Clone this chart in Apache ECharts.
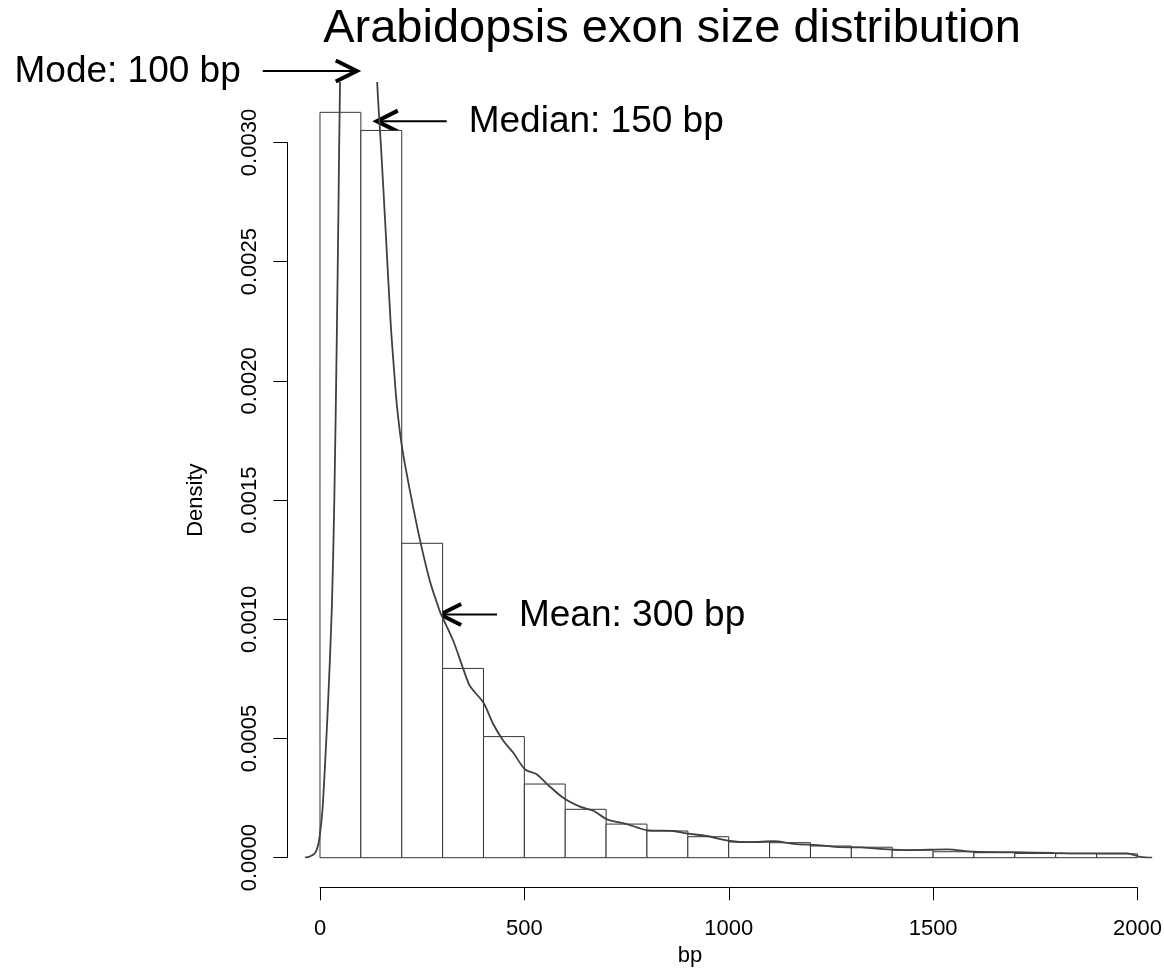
<!DOCTYPE html>
<html>
<head>
<meta charset="utf-8">
<script src="https://cdn.jsdelivr.net/npm/echarts@6/dist/echarts.min.js"></script>
<style>
	html, body { margin: 0; padding: 0; background: #fff; }
	#chart { width: 1164px; height: 972px; }
</style>
</head>
<body>
<div id="chart"></div>
<script>
	// histogram bins (100 bp wide), density per bin
	var binStart = [0, 100, 200, 300, 400, 500, 600, 700, 800, 900, 1000, 1100, 1200, 1300, 1400, 1500, 1600, 1700, 1800, 1900];
	var binDensity = [0.003127, 0.003051, 0.001319, 0.000794, 0.000508, 0.000309, 0.000203, 0.000141, 0.000112, 0.000088,
		0.000066, 0.000063, 0.000049, 0.000044, 0.000032, 0.000025, 0.000021, 0.000018, 0.000017, 0.000016];
	var binWidth = 100;

	// kernel density curve
	var curveBp = [-37, -25, -12, -5, 0, 6, 12, 20, 29, 35, 41, 45, 49, 60, 75, 90, 105, 120, 140, 150, 160, 173, 181, 188,
		200, 220, 245, 269, 294, 302, 326, 351, 367, 400, 424, 449, 473, 502, 530, 555, 596, 636, 669, 702, 751, 800,
		865, 897, 946, 1004, 1053, 1110, 1159, 1224, 1273, 1322, 1371, 1444, 1534, 1599, 1697, 1795, 1893, 1975, 2003, 2020, 2036];
	var curveDensity = [0, 0.000005, 0.00002, 0.00005, 0.0001, 0.0002, 0.00038, 0.00066, 0.00105, 0.0015, 0.00217, 0.0027, 0.00325,
		0.0042, 0.0048, 0.0050, 0.0047, 0.0041, 0.00325, 0.00296, 0.00265, 0.00224, 0.00205, 0.00190,
		0.00173, 0.00154, 0.00133, 0.00116, 0.00103, 0.00100, 0.00091, 0.00079, 0.00072, 0.00065, 0.00056, 0.00049, 0.00044,
		0.00037, 0.00035, 0.00031, 0.00025, 0.000214, 0.000197, 0.000161, 0.000141, 0.000116,
		0.000112, 0.000102, 0.000091, 0.00007, 0.000065, 0.000069, 0.000058, 0.000052, 0.000044, 0.000043, 0.000037,
		0.000032, 0.000035, 0.000025, 0.000023, 0.00002, 0.000018, 0.000018, 0.000005, 0.000001, 0];

	// annotation arrows (data coordinates)
	var noteText = ['Mode: 100 bp', 'Median: 150 bp', 'Mean: 300 bp'];
	var noteTipBp = [90, 139, 294];
	var noteTipDensity = [0.0033, 0.00309, 0.00102];
	var noteTailBp = [-140, 310, 433];

	var FONT = '"Liberation Sans", Arial, sans-serif';
	var chart = echarts.init(document.getElementById('chart'));

	var barData = [];
	for (var i = 0; i < binStart.length; i++) {
		barData.push([binStart[i], binStart[i] + binWidth, binDensity[i]]);
	}
	var curveData = [];
	for (var j = 0; j < curveBp.length; j++) {
		curveData.push([curveBp[j], curveDensity[j]]);
	}

	var axisLine = { show: true, onZero: false, lineStyle: { color: '#000', width: 1 } };

	var option = {
		animation: false,
		backgroundColor: '#fff',
		grid: [
			{ left: 287.3, right: 0, top: 83, bottom: 114.3, outerBoundsMode: 'none' },
			{ left: 320, width: 817.5, top: 700, bottom: 84.7, outerBoundsMode: 'none' },
			{ left: 287.3, width: 100, top: 142.5, bottom: 114.3, outerBoundsMode: 'none' }
		],
		xAxis: [
			{ gridIndex: 0, type: 'value', min: -80, max: 2065, show: false },
			{
				gridIndex: 1, type: 'value', min: 0, max: 2000, interval: 500,
				axisLine: axisLine, splitLine: { show: false },
				axisTick: { show: true, length: 13, lineStyle: { color: '#000' } },
				axisLabel: {
					fontSize: 22, fontFamily: FONT, color: '#000', margin: 31,
					formatter: function(v) { return String(v); }
				}
			},
			{ gridIndex: 2, type: 'value', show: false }
		],
		yAxis: [
			{ gridIndex: 0, type: 'value', min: 0, max: 0.00325, show: false },
			{ gridIndex: 1, type: 'value', show: false },
			{
				gridIndex: 2, type: 'value', min: 0, max: 0.003, interval: 0.0005,
				axisLine: axisLine, splitLine: { show: false },
				axisTick: { show: true, length: 14, lineStyle: { color: '#000' } },
				axisLabel: {
					fontSize: 22, fontFamily: FONT, color: '#000', margin: 26, rotate: 90,
					formatter: function(v) { return v.toFixed(4); }
				},
				name: 'Density', nameLocation: 'middle', nameGap: 80,
				nameTextStyle: { fontSize: 22, fontFamily: FONT, color: '#000' }
			}
		],
		series: [
			{
				type: 'custom',
				xAxisIndex: 0, yAxisIndex: 0,
				data: barData,
				renderItem: function(params, api) {
					var p0 = api.coord([api.value(0), api.value(2)]);
					var p1 = api.coord([api.value(1), 0]);
					return {
						type: 'rect',
						shape: { x: p0[0], y: p0[1], width: p1[0] - p0[0], height: p1[1] - p0[1] },
						style: { fill: '#fff', stroke: '#333', lineWidth: 1 }
					};
				},
				z: 2
			},
			{
				type: 'line',
				xAxisIndex: 0, yAxisIndex: 0,
				data: curveData,
				showSymbol: false,
				smooth: 0.3,
				clip: true,
				lineStyle: { color: '#404040', width: 1.8 },
				z: 3
			}
		]
	};
	chart.setOption(option);

	// title, x label and arrows placed through the grid's scales
	var graphics = [
		{
			type: 'text', x: 672, y: 29,
			style: { text: 'Arabidopsis exon size distribution', font: '47px ' + FONT, fill: '#000',
				align: 'center', verticalAlign: 'middle', textAlign: 'center', textVerticalAlign: 'middle' }
		},
		{
			type: 'text', x: 690, y: 956,
			style: { text: 'bp', font: '22px ' + FONT, fill: '#000',
				align: 'center', verticalAlign: 'middle', textAlign: 'center', textVerticalAlign: 'middle' }
		}
	];
	for (var k = 0; k < noteText.length; k++) {
		var tip = chart.convertToPixel({ xAxisIndex: 0, yAxisIndex: 0 }, [noteTipBp[k], noteTipDensity[k]]);
		var tail = chart.convertToPixel({ xAxisIndex: 0, yAxisIndex: 0 }, [noteTailBp[k], noteTipDensity[k]]);
		var dir = tail[0] < tip[0] ? 1 : -1;
		graphics.push({
			type: 'polyline',
			shape: { points: [[tail[0], tip[1]], [tip[0] - dir * 2, tip[1]]] },
			style: { stroke: '#000', lineWidth: 2, fill: null }
		});
		graphics.push({
			type: 'polyline',
			shape: { points: [[tip[0] - dir * 21, tip[1] - 10.5], [tip[0], tip[1]], [tip[0] - dir * 21, tip[1] + 10.5]] },
			style: { stroke: '#000', lineWidth: 4, fill: null, lineJoin: 'miter' }
		});
		graphics.push({
			type: 'text',
			x: tail[0] - dir * 22, y: tip[1] + 1,
			style: { text: noteText[k], font: '37px ' + FONT, fill: '#000',
				align: dir > 0 ? 'right' : 'left', verticalAlign: 'middle',
				textAlign: dir > 0 ? 'right' : 'left', textVerticalAlign: 'middle' }
		});
	}
	chart.setOption({ graphic: graphics });
</script>
</body>
</html>
